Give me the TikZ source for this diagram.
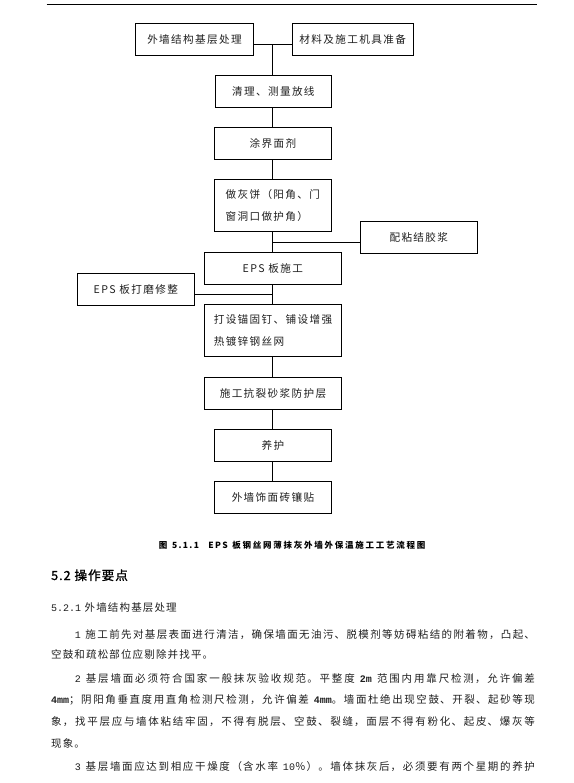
\documentclass[tikz,border=0pt]{standalone}
\usepackage{fontspec}
\setmainfont{Noto Sans CJK SC}
\newfontfamily\bodyf[LetterSpace=11]{Noto Sans CJK SC}
\newfontfamily\boxf[LetterSpace=13]{Noto Sans CJK SC}
\newfontfamily\headf[LetterSpace=8,FakeBold=1.2]{Noto Sans CJK SC}
\newfontfamily\capff[LetterSpace=16]{Noto Sans CJK SC}
\newfontfamily\monof{Liberation Mono}
\XeTeXlinebreaklocale "zh"
\XeTeXlinebreakskip=0pt plus 2pt
\newcommand\mn[1]{{\monof\fontsize{10}{11}\selectfont #1}}
\newcommand\mb[1]{{\monof\bfseries\fontsize{10}{11}\selectfont #1}}
\newcommand\jline[2]{\parbox[t]{#1pt}{\hbadness=10000\tolerance=10000\parfillskip=0pt\relax #2}}
\definecolor{txt}{gray}{0.12}
\begin{document}
\begin{tikzpicture}[x=1pt,y=-1pt,line width=0.9pt,
  box/.style={draw=black, inner sep=0pt, text=txt, align=center,
    font=\boxf\fontsize{10.6}{21.7}\selectfont},
  sbox/.style={box, minimum height=32},
  para/.style={anchor=base west, inner sep=0pt, text=txt,
    font=\bodyf\fontsize{10.5}{12}\selectfont}]
\useasboundingbox (0,0) rectangle (573,783);
\fill[white] (0,0) rectangle (573,783);
% header rule
\coordinate (hl) at (46.7,4.3);
\coordinate (hr) at (536.7,4.3);
\draw (hl) -- (hr);
% flow chart boxes
\node[sbox, minimum width=117.6, minimum height=31.7] (A) at (194.5,39.2) {外墙结构基层处理};
\node[sbox, minimum width=121.3, minimum height=31.7] (B) at (352.65,39.2) {材料及施工机具准备};
\node[sbox, minimum width=116.7] (C) at (273.35,91.3) {清理、测量放线};
\node[sbox, minimum width=117.4] (D) at (273,143.3) {涂界面剂};
\node[box, minimum width=117, minimum height=52, align=left] (E) at (272.8,205.3) {做灰饼（阳角、门\\窗洞口做护角）};
\node[sbox, minimum width=117] (F) at (418.8,237.3) {配粘结胶浆};
\node[sbox, minimum width=137] (G) at (272.8,268.3) {EPS 板施工};
\node[sbox, minimum width=117] (H) at (135.8,289.3) {EPS 板打磨修整};
\node[box, minimum width=137.4, minimum height=51.6, align=left] (I) at (273,330.5) {打设锚固钉、铺设增强\\热镀锌钢丝网};
\node[sbox, minimum width=137.4] (J) at (273,393.3) {施工抗裂砂浆防护层};
\node[sbox, minimum width=117.4] (K) at (273,445.3) {养护};
\node[sbox, minimum width=117.4] (L) at (273,497.3) {外墙饰面砖镶贴};
% connectors
\coordinate (t) at (272.7,0);
\coordinate (j1) at (272.7,44.3);
\coordinate (j2) at (272.7,242);
\coordinate (j3) at (272.7,294.3);
\draw (A.east |- j1) -- (B.west |- j1);
\draw (j1) -- (t |- C.north);
\draw (t |- C.south) -- (t |- D.north);
\draw (t |- D.south) -- (t |- E.north);
\draw (t |- E.south) -- (t |- G.north);
\draw (F.west |- j2) -- (j2);
\draw (t |- G.south) -- (t |- I.north);
\draw (H.east |- j3) -- (j3);
\draw (t |- I.south) -- (t |- J.north);
\draw (t |- J.south) -- (t |- K.north);
\draw (t |- K.south) -- (t |- L.north);
% caption
\node[anchor=base west, inner sep=0pt, text=black,
  font=\capff\bfseries\fontsize{8.5}{10}\selectfont] (cap) at (158.3,548.2)
  {\jline{266.7}{图 5.1.1 \ EPS 板钢丝网薄抹灰外墙外保温施工工艺流程图}};
% headings
\node[anchor=base west, inner sep=0pt, text=black,
  font=\headf\fontsize{12.6}{14}\selectfont] (h1) at (50.7,580) {5.2 操作要点};
\node[para] (h2) at (50.7,611.2) {\mn{5.2.1} 外墙结构基层处理};
% body text
\node[para] (p1) at (74.3,638.9) {\jline{460.2}{\mn{1} 施工前先对基层表面进行清洁，确保墙面无油污、脱模剂等妨碍粘结的附着物，凸起、}};
\node[para] (p2) at (50.7,658.9) {空鼓和疏松部位应剔除并找平。};
\node[para] (p3) at (74.3,682.2) {\jline{460.2}{\mn{2} 基层墙面必须符合国家一般抹灰验收规范。平整度 \mb{2m} 范围内用靠尺检测，允许偏差}};
\node[para] (p4) at (50.7,703.9) {\jline{483.8}{\mb{4mm}；阴阳角垂直度用直角检测尺检测，允许偏差 \mb{4mm}。墙面杜绝出现空鼓、开裂、起砂等现}};
\node[para] (p5) at (50.7,725.6) {\jline{483.8}{象，找平层应与墙体粘结牢固，不得有脱层、空鼓、裂缝，面层不得有粉化、起皮、爆灰等}};
\node[para] (p6) at (50.7,747.9) {现象。};
\node[para] (p7) at (74.3,770.6) {\jline{460.2}{\mn{3} 基层墙面应达到相应干燥度（含水率 \mn{10}％）。墙体抹灰后，必须要有两个星期的养护}};
\end{tikzpicture}
\end{document}
